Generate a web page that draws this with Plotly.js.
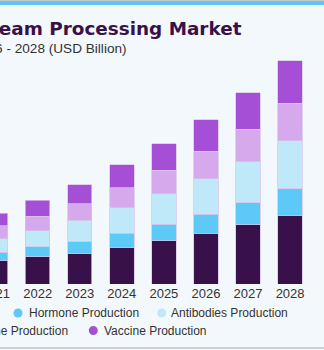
<!DOCTYPE html>
<html>
<head>
<meta charset="utf-8">
<script src="https://cdn.plot.ly/plotly-3.0.1.min.js"></script>
<style>
  html, body { margin:0; padding:0; width:324px; height:350px; overflow:hidden; background:#f3f8fc; }
  #wrap { position:absolute; left:0; top:0; width:324px; height:350px; overflow:hidden; }
  #chart { position:absolute; left:-60px; top:0; width:384px; height:350px; }
  #topgray { position:absolute; left:0; top:0; width:324px; height:1px; background:#c9c9c9; z-index:5; }
  #topblue { position:absolute; left:0; top:1px; width:324px; height:4px; background:#5cc6f2; z-index:5; }
  #botgray { position:absolute; left:0; top:347px; width:324px; height:2px; background:#cfcfcf; z-index:5; }
</style>
</head>
<body>
<div id="wrap">
  <div id="chart"></div>
  <div id="topgray"></div>
  <div id="topblue"></div>
  <div id="botgray"></div>
</div>
<script>
// ---- data (USD Billion) ----
var years      = ['2021','2022','2023','2024','2025','2026','2027','2028'];
var antibiotic = [7.28, 8.53, 9.59, 11.47, 13.44, 15.84, 18.44, 21.56];
var hormone    = [2.63, 3.13, 3.63, 4.38, 5.31, 6.03, 6.97, 8.13];
var antibodies = [4.25, 5.00, 6.69, 8.00, 9.38, 11.03, 12.81, 15.00];
var enzyme     = [3.97, 4.59, 5.19, 6.25, 7.41, 8.66, 10.13, 11.78];
var vaccine    = [3.97, 5.00, 5.94, 7.19, 8.31, 9.78, 11.44, 13.31];
var seriesNames = ['Antibiotic Production','Hormone Production','Antibodies Production','Enzyme Production','Vaccine Production'];
var titleText = 'Downstream Processing Market';
var subtitleText = 'size, by application, 2016 - 2028 (USD Billion)';

var colors = ['#38104a','#5cc9f6','#bfe9f9','#d6a9ec','#a54fd6'];
var values = [antibiotic, hormone, antibodies, enzyme, vaccine];

var traces = values.map(function(v, i){
  return {
    type:'bar', x: years, y: v, name: seriesNames[i],
    marker:{color: colors[i], line:{color:'rgba(214,196,236,0.9)', width:0.8}},
    showlegend:false, hoverinfo:'skip'
  };
});

// geometry helpers (div is 384 wide, shifted 60px left; plot area y 44..284)
var DW = 384, SHIFT = 60, PT = 44, PB = 284;
function px(x){ return (x + SHIFT) / DW; }
function py(y){ return (PB - y) / (PB - PT); }

var textFont = {family:'Liberation Sans, Arial, sans-serif', size:12, color:'#333333'};
var annotations = [
  {text:titleText, xref:'paper', yref:'paper', x:px(242), y:py(28.3), xanchor:'right', yanchor:'middle',
   showarrow:false, borderpad:0, borderwidth:0,
   font:{family:'DejaVu Sans, sans-serif', size:18.4, weight:700, color:'#3a1048'}},
  {text:subtitleText, xref:'paper', yref:'paper', x:px(127), y:py(48.5), xanchor:'right', yanchor:'middle',
   showarrow:false, borderpad:0, borderwidth:0,
   font:{family:'Liberation Sans, Arial, sans-serif', size:13.6, color:'#333333'}}
];
// legend entries (two centred rows)
var legendRows = [
  {i:0, anchor:'right', tx:-7,    mx:-127, y:313},
  {i:1, anchor:'left',  tx:29.3,  mx:18,   y:313},
  {i:2, anchor:'left',  tx:171,   mx:161.7,y:313},
  {i:3, anchor:'right', tx:68.3,  mx:-47,  y:330.5},
  {i:4, anchor:'left',  tx:104.3, mx:93.3, y:330.5}
];
var shapes = [];
legendRows.forEach(function(r){
  annotations.push({text:seriesNames[r.i], xref:'paper', yref:'paper', x:px(r.tx), y:py(r.y),
    xanchor:r.anchor, yanchor:'middle', showarrow:false, borderpad:0, borderwidth:0, font:textFont});
  shapes.push({type:'circle', xref:'paper', yref:'paper', xsizemode:'pixel', ysizemode:'pixel',
    xanchor:px(r.mx), yanchor:py(r.y), x0:-4.5, x1:4.5, y0:-4.5, y1:4.5,
    fillcolor:colors[r.i], line:{width:0}});
});

var layout = {
  width:384, height:350,
  margin:{l:0, r:0, t:PT, b:350-PB, pad:0},
  paper_bgcolor:'#f3f8fc', plot_bgcolor:'#f3f8fc',
  barmode:'stack', bargap:0.42,
  xaxis:{type:'category', range:[-1.3216, 7.806], showgrid:false, zeroline:false, showline:false,
         ticks:'', tickfont:{family:'Liberation Sans, Arial, sans-serif', size:13, color:'#333333'},
         fixedrange:true},
  yaxis:{range:[0,75], visible:false, fixedrange:true},
  showlegend:false,
  annotations:annotations,
  shapes:shapes
};
Plotly.newPlot('chart', traces, layout, {displayModeBar:false, staticPlot:true});
</script>
</body>
</html>
